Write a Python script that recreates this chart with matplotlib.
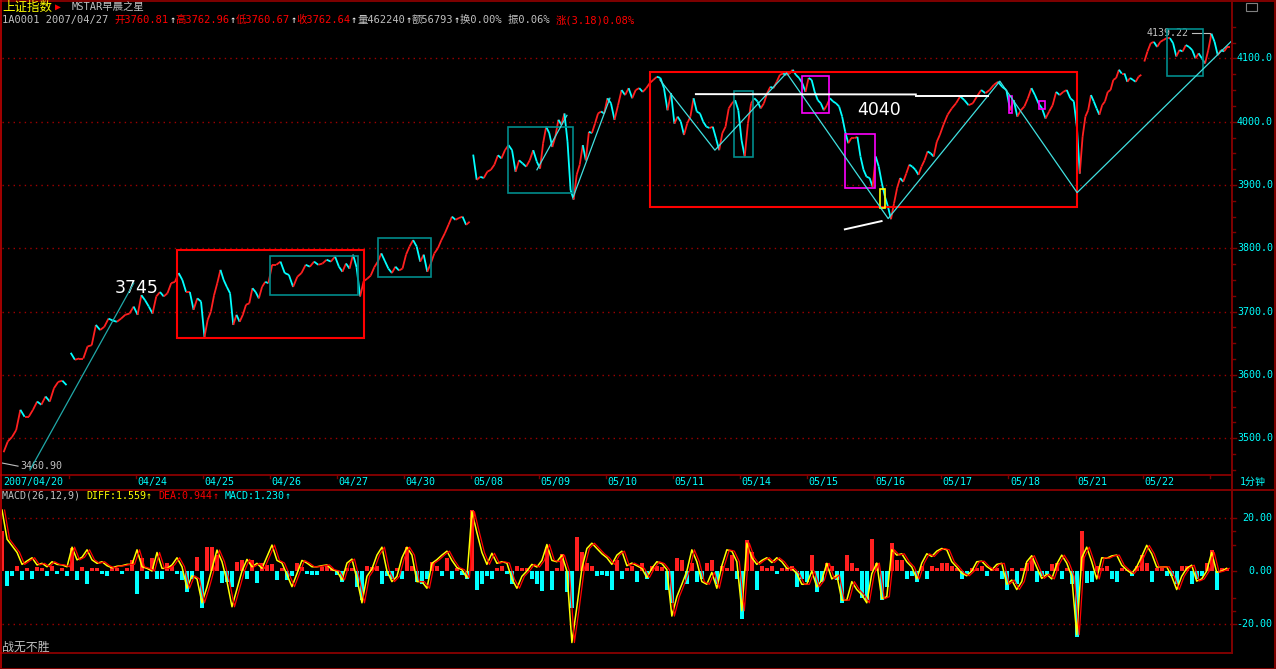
import numpy as np
import matplotlib
matplotlib.use("Agg")
import matplotlib.pyplot as plt
import matplotlib.transforms as mtransforms
from matplotlib.collections import LineCollection
from matplotlib.patches import Rectangle
from matplotlib.lines import Line2D

plt.rcParams['font.family'] = ['DejaVu Sans Mono', 'Noto Sans CJK SC']

# ---------------- data ----------------
days = ['04/20', '04/23', '04/24', '04/25', '04/26', '04/27', '04/30', '05/08', '05/09',
        '05/10', '05/11', '05/14', '05/15', '05/16', '05/17', '05/18', '05/21', '05/22', '05/23']
hidden_labels = ['04/23', '05/23']
gap_days = ['04/23', '05/08', '05/22']
session_minutes = 240
last_day_minutes = 79

day_prices = [
    [3478, 3495, 3502, 3513, 3545, 3534, 3534, 3545, 3558, 3553, 3566, 3558, 3579, 3589, 3591, 3584],
    [3635, 3624, 3626, 3626, 3645, 3647, 3679, 3671, 3676, 3689, 3686, 3684, 3689, 3695, 3697, 3708],
    [3695, 3726, 3718, 3708, 3697, 3724, 3731, 3724, 3729, 3745, 3747, 3761, 3750, 3731, 3731, 3703, 3721, 3716],
    [3660, 3687, 3700, 3726, 3745, 3766, 3750, 3739, 3729, 3679, 3695, 3684, 3695, 3711, 3713, 3737, 3731,
     3721, 3739, 3747, 3745],
    [3774, 3774, 3779, 3761, 3758, 3739, 3755, 3761, 3774, 3771, 3779, 3774, 3776, 3782, 3779, 3787],
    [3771, 3763, 3776, 3768, 3790, 3770, 3724, 3748, 3752, 3757, 3770, 3779, 3792, 3780, 3768, 3761, 3771,
     3765, 3768],
    [3790, 3803, 3813, 3803, 3779, 3790, 3763, 3776, 3792, 3800, 3813, 3824, 3837, 3850, 3845, 3848, 3850,
     3837, 3842],
    [3948, 3908, 3913, 3911, 3921, 3924, 3932, 3947, 3942, 3955, 3963, 3955, 3921, 3939, 3934, 3929, 3939,
     3955, 3937],
    [3926, 3966, 3992, 3982, 3960, 3976, 4003, 3995, 4013, 3968, 3892, 3877, 3916, 3932, 3963, 3939, 3984,
     3982, 3997, 4013, 4016, 4013],
    [4037, 4029, 4003, 4026, 4050, 4042, 4053, 4037, 4050, 4053, 4047, 4053, 4061, 4066, 4071, 4069, 4053,
     4018, 4045],
    [3997, 4008, 4000, 3979, 3997, 4008, 4037, 4016, 4013, 4000, 3992, 3990, 3992, 3974, 3955, 3982, 3992,
     4021, 4029, 4034, 4018],
    [3971, 3945, 3997, 4029, 4037, 4032, 4021, 4029, 4045, 4055, 4053, 4063, 4074, 4076, 4074, 4076, 4082,
     4074, 4069, 4061, 4047],
    [4069, 4066, 4047, 4034, 4029, 4018, 4026, 4037, 4032, 4029, 4024, 4008, 3984, 3966, 3974, 3974, 3976,
     3945, 3924, 3913, 3911, 3897],
    [3945, 3929, 3903, 3882, 3866, 3846, 3871, 3895, 3911, 3905, 3918, 3932, 3929, 3924, 3916, 3929, 3939,
     3953, 3950, 3945, 3968, 3979],
    [3995, 4011, 4021, 4029, 4040, 4034, 4026, 4029, 4040, 4050, 4045, 4050, 4058, 4063, 4055, 4050],
    [4018, 4034, 4008, 4018, 4024, 4037, 4053, 4042, 4029, 4021, 4005, 4016, 4026, 4047, 4042, 4047, 4050,
     4037, 4032],
    [3990, 3918, 3976, 4008, 4018, 4042, 4032, 4021, 4011, 4026, 4032, 4047, 4050, 4066, 4069, 4082, 4076,
     4076, 4063, 4069, 4066, 4063, 4071, 4074],
    [4095, 4111, 4124, 4126, 4118, 4126, 4129, 4132, 4132, 4124, 4103, 4113, 4111, 4121, 4118, 4113, 4100,
     4108, 4100, 4092, 4113],
    [4139, 4126, 4105, 4113, 4111, 4118, 4118],
]

price_ticks = [3500, 3600, 3700, 3800, 3900, 4000, 4100]
macd_ticks = [-20, 0, 20]

# MACD(26,12,9), sampled every ~17.9 minutes
macd_start_min = 2
macd_step_min = 17.87
dea_lag_min = 9
diff_vals = [
    23, 12, 9.5, 7, 2.5, 3.8, 5, 2.3, 2.9, 1.6, 3.5, 2.5, 2.3, 1.6, 9, 4.2, 5.2, 8, 4.2, 2.9,
    3.5, 2, 1.2, 1.8, 2, 2.5, 2.5, 8, 1.6, 1.0, 0, 7, 1, 1.0, 2.3, 5, 1.6, -6.5, -1.8, -3,
    -12, -6, 1, 7.9, 3.5, -4, -13.5, -6.8, 0, 4.4, 1.6, 2.9, 1.0, 5.4, 9.8, 4, 3, -1.5, -5.9, -1,
    4, 3, 1.6, 1.6, 2, 2.3, 0.5, 0, -3.4, 3, 4.5, -3, -12, -2, 0.8, 6, 9, 0, -4, -2,
    5, 9, 6, -4, -4, -6.5, 2.9, 4.3, 6, 7.5, 4, 1.3, 0.5, -2.6, 22.4, 14.5, 7, 2.5, 6.7, 2.9,
    3.5, 3, -3, -6.5, -2, 0, 2.5, 1.5, 4, 10, 4, 3.5, 6, 0, -27, -13.5, 1, 8.5, 10.5, 8.5,
    6.5, 5, 2.5, 6, 7.5, 2, 3, 2, 1, -2.5, 1, 3.5, 2.8, 0.5, -17, -9.7, -5, 0, 8, 3.5,
    -4, -5, -0.5, -6.5, 2, 8, 7.5, 3.5, -15, 10.5, 5, 2.5, 4, 5, 3.2, 5, 3.5, 1, 1, -1,
    -5, -5, 0, -6, -3.5, 2.9, -3, -1.5, -11, -11, -4, -7, -9, -12, -1, 3, -10.5, -9.7, 8, 6,
    6.5, 3.5, 1.5, -3, 3, 6.5, 5.5, 7.5, 8.5, 8, 3.5, 1.5, -0.8, -1.8, 0, 3.5, 3.7, 1.7, 0.4, 2.5,
    2.9, -5, -3.4, -7, -4, 3.5, 5.8, 1.4, -2.8, -1.2, -3, 2.6, 6, 3, -2, -24, 5, 9, 3.5, -3,
    5, 4.8, 5.7, 6, 2.2, 0.4, -1, 1.6, 5.5, 9.7, 6.5, 1.5, 1.5, 1.6, -2, -7, -2, 1, 2.2, -3.8,
    -3, 0, 7, -0.5, 0, 1,
]
macd_hist = [
    15, -5.5, -2, 2, -3.5, 1, -3, 1.5, 1, -2, 2, -1, 1, -2, 8.6, -3.5, 1.5, -5, 1, 1,
    -1, -2, 1, 1, -1, 1, 4, -8.8, 5, -3, 5, -3, -3, 3, 2, -1, -3.5, -8, -3, 5.4,
    -14, 9.2, 9, 6, -4.4, -4, -6, 3.5, 4.2, -3, 4, -4.4, 3, 2.3, 2.5, -3.5, 1, -3.5, -2, 3,
    1.5, -1, -1.5, -1.5, 1.5, 2, 1, -1.5, -4, 1, 1, -6, -11, 2, 1.5, 2, -4.8, -2, -3, 1,
    -3, 9, 2, -4, -5, -3, 3.5, 2, -2, 5, -3, 1, -1.5, -3, 23, -7, -5, -2, -3, 1,
    2, -1, -5, 2, 1, 1, -3, -5, -7.5, 9, -7, 1, 6.5, -8, -14, 13, 7, 3, 2, -2,
    -1.5, -2, -7, 4, -3, 1, 2, -4, 3, -3, 2, 2, 1.5, -7, -12, 5, 4, -5, 3, -4,
    -3, 3, 4, -5, 2, 1, 6, -3, -18, 11.8, 7, -7, 2, 1, 2, -1, 1, 1, 2, -6,
    -3, -4, 6, -8, -4, 3, 2, -3.4, -12, 6, 3, 1, -10, -11, 12, 3, -11, -6, 10.5, 4,
    4, -3, -2, -4, 2, -3, 2, 1, 3, 3, 2, 1, -3, -1, 1, 1, 2, -2, 1, 1,
    -3, -7, 1, -5, 1, 3, 5, -4, -2, -1, 2.5, 3, -3, 1, -5, -25, 15, -4.5, -4, 2,
    1, 2, -3, -4, 1, 0.5, -2, 2, 6, 3, -4, 1, 1, -2, -2, -5, 2, 2, -5, -3,
    -2, 3, 8, -7, 1, 1,
]

# hand-drawn marks on the chart: (day_from, day_to, price_low, price_high)
red_boxes = [(2.614, 5.399, 3658, 3797), (9.659, 16.014, 3866, 4079)]
teal_boxes = [(3.999, 5.31, 3727, 3788), (5.608, 6.397, 3755, 3817), (7.548, 8.516, 3888, 3992),
              (10.915, 11.189, 3944, 4049), (17.355, 17.905, 4072, 4146)]
magenta_boxes = [(11.927, 12.32, 4013, 4072), (12.568, 13.006, 3896, 3980),
                 (15.01, 15.06, 4013, 4040), (15.457, 15.538, 4020, 4032)]
yellow_boxes = [(13.085, 13.159, 3864, 3894)]
cyan_lines = [
    ([0.425, 1.97], [3450, 3745]),
    ([7.976, 8.423], [3924, 4010]),
    ([8.516, 9.063], [3881, 4037]),
    ([9.808, 10.627, 11.695, 13.208, 14.872, 16.023, 18.33], [4066, 3955, 4077, 3847, 4064, 3888, 4128]),
]
white_lines = [
    ([10.344, 13.62], [4043.5, 4043.0]),
    ([13.62, 14.70], [4040.5, 4040.5]),
    ([12.563, 13.11], [3830, 3843]),
]

# ---------------- layout ----------------
W, H = 1276, 669
BG = '#000000'
DKRED = '#800000'
GRID = '#a00000'
UP = '#ff2020'
DOWN = '#00ffff'
GRAY = '#c0c0c0'
CYAN = '#00ffff'


def fx(px):
    return px / W


def fy(py):
    return 1 - py / H


fig = plt.figure(figsize=(W / 100, H / 100), dpi=100, facecolor=BG)

XMAX = 18.33
ax = fig.add_axes([fx(1.5), fy(474), fx(1232 - 1.5), (474 - 12) / H])
ax.set_xlim(0, XMAX)
ax.set_ylim(3443.6, 4173.2)
axm = fig.add_axes([fx(1.5), fy(653), fx(1232 - 1.5), (653 - 490) / H])
axm.set_xlim(0, XMAX)
axm.set_ylim(-30.94, 30.57)
for a in (ax, axm):
    a.set_facecolor(BG)
    a.set_xticks([])
    a.set_yticks([])
    for s in a.spines.values():
        s.set_visible(False)

# grid
for v in price_ticks:
    ax.axhline(v, color=GRID, lw=1.0, ls=(0, (1, 3)), zorder=1)
for v in (-20, 20):
    axm.axhline(v, color=GRID, lw=1.0, ls=(0, (1, 3)), zorder=1)

# ---------------- price line ----------------
segs, cols = [], []
prev = None
for i, (d, prices) in enumerate(zip(days, day_prices)):
    n = len(prices)
    span = last_day_minutes / session_minutes if i == len(days) - 1 else 1.0
    t = i + (np.arange(n) + 0.5) * span / n
    pts = list(zip(t, prices))
    if prev is not None and d not in gap_days:
        pts = [prev] + pts
    for p0, p1 in zip(pts[:-1], pts[1:]):
        segs.append([p0, p1])
        cols.append(UP if p1[1] >= p0[1] else DOWN)
    prev = pts[-1]
ax.add_collection(LineCollection(segs, colors=cols, linewidths=1.3, zorder=3))

# drawings
for x0, x1, lo, hi in red_boxes:
    ax.add_patch(Rectangle((x0, lo), x1 - x0, hi - lo, fill=False, ec='#ff0000', lw=1.5, zorder=4))
for x0, x1, lo, hi in teal_boxes:
    ax.add_patch(Rectangle((x0, lo), x1 - x0, hi - lo, fill=False, ec='#008c8c', lw=1.2, zorder=4))
for x0, x1, lo, hi in magenta_boxes:
    ax.add_patch(Rectangle((x0, lo), x1 - x0, hi - lo, fill=False, ec='#ff00ff', lw=1.2, zorder=4))
for x0, x1, lo, hi in yellow_boxes:
    ax.add_patch(Rectangle((x0, lo), x1 - x0, hi - lo, fill=False, ec='#ffff00', lw=1.2, zorder=4))
for k, (xs, ys) in enumerate(cyan_lines):
    ax.plot(xs, ys, color='#20a8a8' if k == 0 else '#40e0e0', lw=0.9, zorder=5, clip_on=False)
for xs, ys in white_lines:
    ax.plot(xs, ys, color='#ffffff', lw=1.4, zorder=5)

ax.plot([0.007, 0.246], [3461, 3456], color=GRAY, lw=0.8)
ax.text(0.276, 3456, '3460.90', color=GRAY, fontsize=7.2, va='center', ha='left')
ax.text(1.69, 3737, '3745', color='#ffffff', fontsize=12.5, family='DejaVu Sans', va='center')
ax.text(12.746, 4018, '4040', color='#ffffff', fontsize=12.5, family='DejaVu Sans', va='center')
ax.text(17.06, 4140, '4139.22', color=GRAY, fontsize=7.2, va='center', ha='left')
ax.plot([17.73, 17.999, 17.999], [4140, 4140, 4133], color=GRAY, lw=0.8)

# right axis (price)
blend = mtransforms.blended_transform_factory(fig.transFigure, ax.transData)
for v in range(3450, 4175, 25):
    ln = 4 if v % 100 == 0 else 3
    ax.add_line(Line2D([fx(1232), fx(1232 + ln)], [v, v], transform=blend, color=DKRED, lw=1,
                       clip_on=False))
for v in price_ticks:
    ax.text(fx(1237), v, f'{v:.1f}', transform=blend, color=CYAN, fontsize=7.2, va='center', ha='left')

# ---------------- MACD ----------------
N = len(diff_vals)
tm = (macd_start_min + np.arange(N) * macd_step_min) / session_minutes
step = macd_step_min / session_minutes
hist = np.array(macd_hist)
axm.bar(tm, hist, width=step * 0.85, color=[UP if v > 0 else DOWN for v in hist], zorder=2)
axm.plot(tm, diff_vals, color='#ffff00', lw=1.1, zorder=3)
axm.plot(tm + dea_lag_min / session_minutes, diff_vals, color='#ff0000', lw=0.9, zorder=4)

blendm = mtransforms.blended_transform_factory(fig.transFigure, axm.transData)
for v in macd_ticks + [-15, -10, 10, 15]:
    ln = 4 if v in macd_ticks else 3
    axm.add_line(Line2D([fx(1232), fx(1232 + ln)], [v, v], transform=blendm, color=DKRED, lw=1,
                        clip_on=False))
for v in macd_ticks:
    axm.text(fx(1272), v, f'{v:.2f}', transform=blendm, color=CYAN, fontsize=7.2, va='center', ha='right')

# ---------------- date axis ----------------
blendx = mtransforms.blended_transform_factory(ax.transData, fig.transFigure)
lbl_tr = mtransforms.offset_copy(blendx, fig=fig, x=1.5, y=0, units='dots')
for i, d in enumerate(days):
    if i > 0:
        ax.add_line(Line2D([i, i], [fy(475), fy(478)], transform=blendx, color=DKRED, lw=1, clip_on=False))
    if d in hidden_labels:
        continue
    lab = '2007/' + d if i == 0 else d
    ax.text(i, fy(482), lab, transform=lbl_tr, color=CYAN, fontsize=7.2, va='center', ha='left')
fig.text(fx(1240), fy(482), '1分钟', color=CYAN, fontsize=7.2, va='center', ha='left')

# ---------------- frame lines ----------------
def hline(y, x0, x1, c=DKRED, lw=1.4):
    fig.add_artist(Line2D([fx(x0), fx(x1)], [fy(y), fy(y)], color=c, lw=lw))


def vline(x, y0, y1, c=DKRED, lw=1.4):
    fig.add_artist(Line2D([fx(x), fx(x)], [fy(y0), fy(y1)], color=c, lw=lw))


hline(0.5, 0, W)
hline(475, 0, 1232)
hline(489.5, 0, W)
hline(653, 0, 1232)
vline(1232, 0, 653)
vline(1275, 489.5, 653)
vline(0.8, 0, 668, c='#c00000', lw=1.2)
vline(1275.3, 0, 669)
hline(668.5, 0, W)
fig.add_artist(Rectangle((fx(1246), fy(11)), fx(11), 8 / H, fill=False, ec='#808080', lw=0.8))

# ---------------- header text ----------------
def text_w(s, size):
    px = size * 100 / 72
    return sum(px if ord(c) > 0x2E80 else 0.602 * px for c in s)


def runs(x, y, pieces, size):
    for s, c in pieces:
        fig.text(fx(x), fy(y), s, color=c, fontsize=size, va='center', ha='left')
        x += text_w(s, size)


fig.text(fx(2), fy(7), '上证指数', color='#ffff00', fontsize=9, va='center', ha='left')
fig.text(fx(55), fy(7), '▶', color='#ff0000', fontsize=7, va='center', ha='left')
fig.text(fx(72), fy(7), 'MSTAR早晨之星', color=GRAY, fontsize=7.5, va='center', ha='left')

runs(2, 20, [('1A0001 2007/04/27 ', GRAY), ('开3760.81', '#ff0000'), ('↑', '#ffffff'),
             ('高3762.96', '#ff0000'), ('↑', '#ffffff'), ('低3760.67', '#ff0000'), ('↑', '#ffffff'),
             ('收3762.64', '#ff0000'), ('↑', '#ffffff'), ('量462240', GRAY), ('↑', '#ffffff'),
             ('额56793', GRAY), ('↑', '#ffffff'), ('换0.00% ', GRAY), ('振0.06% ', GRAY),
             ('涨(3.18)0.08%', '#ff0000')], 7.5)

runs(2, 496, [('MACD(26,12,9) ', GRAY), ('DIFF:1.559', '#ffff00'), ('↑ ', '#ffff00'),
              ('DEA:0.944', '#ff0000'), ('↑ ', '#ff0000'), ('MACD:1.230', CYAN), ('↑', CYAN)], 7.2)

fig.text(fx(2), fy(647), '战无不胜', color=GRAY, fontsize=8.6, va='center', ha='left')

fig.savefig('out.png', dpi=100, facecolor=BG)
